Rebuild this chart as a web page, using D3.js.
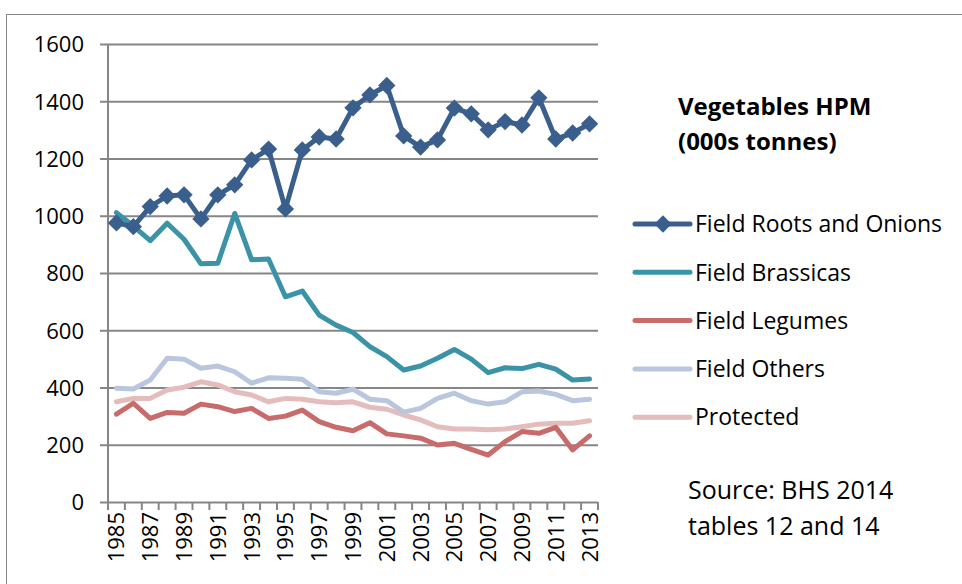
<!DOCTYPE html>
<html>
<head>
<meta charset="utf-8">
<script src="https://cdn.jsdelivr.net/npm/d3@7"></script>
<style>
  body { margin: 0; background: #fff; }
  svg text { font-family: "Open Sans", Lato, sans-serif; fill: #000; }
</style>
</head>
<body>
<div id="chart"></div>
<script>
var w = 962;
var h = 584;

var years = d3.range(1985, 2014);
var yTicks = [0, 200, 400, 600, 800, 1000, 1200, 1400, 1600];

var roots = [975, 962, 1032, 1069, 1073, 989, 1073, 1108, 1195, 1233,
             1024, 1230, 1275, 1268, 1377, 1422, 1455, 1279, 1240, 1265,
             1376, 1356, 1300, 1329, 1317, 1412, 1268, 1289, 1321];
var brassicas = [1011, 964, 913, 974, 918, 832, 834, 1008, 846, 849,
                 717, 737, 653, 618, 592, 543, 508, 461, 475, 502,
                 533, 499, 452, 469, 466, 481, 464, 426, 430];
var legumes = [307, 345, 292, 313, 310, 342, 333, 316, 327, 292,
               300, 321, 281, 261, 249, 277, 238, 231, 223, 199,
               205, 184, 164, 211, 246, 240, 261, 182, 231];
var others = [397, 395, 426, 502, 499, 467, 475, 455, 415, 434,
              432, 429, 385, 380, 394, 359, 354, 314, 327, 362,
              380, 354, 342, 350, 385, 388, 376, 354, 359];
var protectedVeg = [350, 362, 362, 391, 401, 420, 409, 385, 374, 350,
                    362, 359, 350, 347, 350, 331, 324, 304, 287, 263,
                    255, 255, 252, 255, 263, 272, 275, 275, 284];

var seriesNames = ["Field Roots and Onions", "Field Brassicas", "Field Legumes", "Field Others", "Protected"];
var seriesColors = ["#3a5f8c", "#3b93a7", "#c76b6b", "#bac6de", "#e4bcbc"];
var seriesValues = [roots, brassicas, legumes, others, protectedVeg];

var margin = {left: 108, right: 364, top: 44, bottom: 82};

var svg = d3.select("#chart")
            .append("svg")
            .attr("width", w)
            .attr("height", h);

// outer frame
svg.append("rect")
   .attr("x", 6.5).attr("y", 14.5)
   .attr("width", w + 10).attr("height", h)
   .attr("fill", "none")
   .attr("stroke", "#868686")
   .attr("stroke-width", 1);

var x = d3.scaleBand()
          .domain(years)
          .range([margin.left, w - margin.right])
          .paddingInner(0).paddingOuter(0);

var y = d3.scaleLinear()
          .domain([0, 1600])
          .range([h - margin.bottom, margin.top]);

// horizontal grid + y labels
var yAxis = d3.axisLeft(y)
              .tickValues(yTicks)
              .tickSize(-(w - margin.right - margin.left + 8))
              .tickFormat(d3.format("d"));

var gy = svg.append("g")
            .attr("transform", "translate(" + (margin.left - 8) + ",0)")
            .call(yAxis);
gy.select(".domain").remove();
gy.selectAll(".tick line")
  .attr("stroke", "#868686")
  .attr("stroke-width", 2);
gy.selectAll(".tick text")
  .attr("x", -16)
  .attr("dy", "0.36em")
  .style("font-size", "22px");

// vertical axis line
svg.append("line")
   .attr("x1", margin.left).attr("x2", margin.left)
   .attr("y1", margin.top).attr("y2", y(0) + 8)
   .attr("stroke", "#868686")
   .attr("stroke-width", 2);

// category tick marks on x axis
var boundaries = years.map(function(d) { return x(d); }).concat([x.range()[1]]);
svg.append("g")
   .selectAll("line")
   .data(boundaries)
   .join("line")
   .attr("x1", function(d) { return d; })
   .attr("x2", function(d) { return d; })
   .attr("y1", y(0))
   .attr("y2", y(0) + 8)
   .attr("stroke", "#868686")
   .attr("stroke-width", 2);

// x labels, every other year
svg.append("g")
   .selectAll("text")
   .data(years.filter(function(d, i) { return i % 2 === 0; }))
   .join("text")
   .attr("transform", function(d) {
      return "translate(" + (x(d) + x.bandwidth() / 2 + 8) + "," + (y(0) + 10) + ") rotate(-90)";
   })
   .attr("text-anchor", "end")
   .style("font-size", "22px")
   .text(function(d) { return d; });

var line = d3.line()
             .x(function(d, i) { return x(years[i]) + x.bandwidth() / 2; })
             .y(function(d) { return y(d); });

// draw back-to-front: protected first, roots last
for (var s = seriesValues.length - 1; s >= 0; s--) {
   svg.append("path")
      .attr("d", line(seriesValues[s]))
      .attr("fill", "none")
      .attr("stroke", seriesColors[s])
      .attr("stroke-width", 5)
      .attr("stroke-linejoin", "round")
      .attr("stroke-linecap", "round");
}

var diamond = d3.symbol().type(d3.symbolSquare).size(150);

svg.append("g")
   .selectAll("path")
   .data(roots)
   .join("path")
   .attr("d", diamond)
   .attr("transform", function(d, i) {
      return "translate(" + (x(years[i]) + x.bandwidth() / 2) + "," + y(d) + ") rotate(45)";
   })
   .attr("fill", seriesColors[0]);

// title
var title = svg.append("text")
               .attr("x", 678)
               .attr("y", 115)
               .style("font-size", "24px")
               .style("font-weight", "bold");
title.append("tspan").attr("x", 678).text("Vegetables HPM");
title.append("tspan").attr("x", 678).attr("dy", 35).text("(000s tonnes)");

// legend
var legend = svg.append("g")
                .selectAll("g")
                .data(seriesNames)
                .join("g")
                .attr("transform", function(d, i) { return "translate(635," + (224 + i * 48.3) + ")"; });

legend.append("line")
      .attr("x1", 0).attr("x2", 55)
      .attr("stroke", function(d, i) { return seriesColors[i]; })
      .attr("stroke-width", 5)
      .attr("stroke-linecap", "round");

legend.filter(function(d, i) { return i === 0; })
      .append("path")
      .attr("d", diamond)
      .attr("transform", "translate(28,0) rotate(45)")
      .attr("fill", seriesColors[0]);

legend.append("text")
      .attr("x", 60)
      .attr("dy", "0.36em")
      .style("font-size", "23px")
      .text(function(d) { return d; });

// source note
var note = svg.append("text")
              .attr("x", 688)
              .attr("y", 499)
              .style("font-size", "25px");
note.append("tspan").attr("x", 688).text("Source: BHS 2014");
note.append("tspan").attr("x", 688).attr("dy", 36).text("tables 12 and 14");
</script>
</body>
</html>
